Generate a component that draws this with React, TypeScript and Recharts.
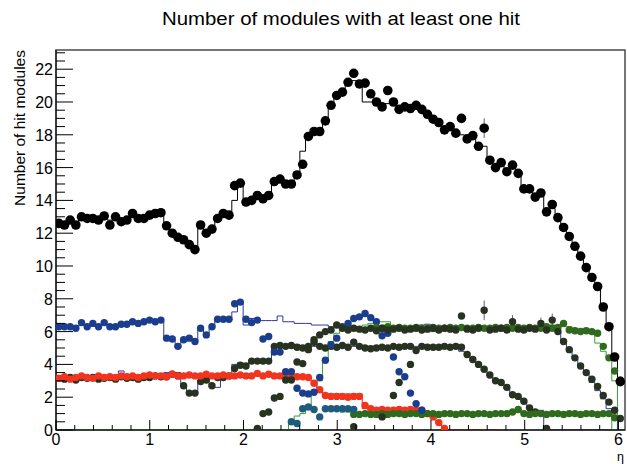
import React from 'react';
import { ComposedChart, Line, Scatter, XAxis, YAxis, ReferenceArea, ErrorBar } from 'recharts';

const _ = null;

// Binning of the η histograms
const BIN_WIDTH = 0.0605;
const X_MAX = 6.07;
const Y_MAX = 23.17;

// All detector modules: data points and simulation histogram
const TOTAL_DATA = [
  12.6, 12.5, 12.8, 12.5, 13.0, 12.9, 12.9, 12.8, 13.05, 12.5,
  13.0, 12.7, 12.8, 13.2, 12.9, 12.9, 13.1, 13.2, 13.25, 12.45,
  12.0, 11.75, 11.6, 11.3, 11.0, 12.5, 12.0, 12.25, 12.9, 13.2,
  13.1, 14.9, 15.05, 13.9, 14.0, 14.3, 14.1, 14.3, 15.15, 15.3,
  15.0, 15.0, 15.55, 16.2, 17.9, 18.2, 18.2, 18.85, 19.8, 20.4,
  20.6, 21.2, 21.75, 21.1, 21.15, 20.5, 20.0, 19.7, 20.7, 20.0,
  19.55, 19.7, 19.6, 19.8, 19.55, 19.25, 18.95, 18.75, 18.3, 18.5,
  18.1, 19.0, 17.75, 17.95, 17.3, 18.4, 16.45, 16.0, 16.3, 15.75,
  16.15, 15.65, 14.7, 14.7, 14.2, 14.45, 13.3, 13.75, 12.95, 12.35,
  11.8, 11.2, 10.6, 9.9, 9.3, 8.75, 7.5, 6.3, 4.45, 2.95,
];
const TOTAL_HIST = [
  12.8, 12.6, 12.8, 12.7, 12.9, 12.9, 12.9, 12.9, 13.0, 12.8,
  13.0, 12.9, 12.9, 13.1, 13.0, 13.0, 13.1, 13.2, 13.3, 12.5,
  12.0, 11.7, 11.5, 11.2, 11.1, 12.3, 12.2, 12.4, 12.8, 13.0,
  13.0, 14.0, 15.0, 13.7, 14.0, 14.3, 14.1, 14.4, 15.0, 15.2,
  15.0, 15.1, 15.75, 17.0, 17.9, 18.1, 18.3, 18.9, 19.7, 20.3,
  20.6, 21.1, 21.3, 21.2, 20.0, 20.0, 20.0, 19.8, 19.9, 19.9,
  19.7, 19.7, 19.7, 19.6, 19.5, 19.3, 19.0, 18.7, 18.5, 18.4,
  18.1, 18.0, 17.9, 17.8, 17.5, 17.3, 16.5, 16.2, 16.1, 15.8,
  16.0, 15.6, 14.8, 14.6, 14.3, 14.3, 13.5, 13.5, 12.9, 12.3,
  11.8, 11.2, 10.6, 10.0, 9.3, 8.7, 7.5, 6.2, 4.5, 3.0,
];

// Barrel layers (navy)
const NAVY_DATA = [
  6.3, 6.3, 6.3, 6.2, 6.55, 6.3, 6.5, 6.3, 6.55, 6.3,
  6.3, 6.45, 6.45, 6.6, 6.5, 6.6, 6.7, 6.6, 6.7, 5.6,
  5.55, 5.1, 5.5, 5.6, 5.4, 6.2, 5.8, 6.3, 6.75, 6.75,
  6.75, 7.7, 7.8, 6.75, 6.55, 6.7, 5.55, 5.7, 4.75, 4.75,
  3.55, 3.55, 2.55, 2.25, 2.2, _, _, _, _, _,
  _, _, _, _, _, _, _, _, _, _,
  _, _, _, _, _, _, _, _, _, _,
  _, _, _, _, _, _, _, _, _, _,
  _, _, _, _, _, _, _, _, _, _,
  _, _, _, _, _, _, _, _, _, _,
];
const NAVY_HIST = [
  6.35, 6.3, 6.3, 6.3, 6.4, 6.4, 6.4, 6.4, 6.4, 6.4,
  6.4, 6.45, 6.45, 6.5, 6.5, 6.6, 6.6, 6.6, 6.65, 5.6,
  5.5, 5.0, 5.5, 5.5, 5.4, 6.1, 5.9, 6.2, 6.7, 6.7,
  6.7, 7.2, 7.8, 6.4, 6.8, 6.75, 6.67, 6.67, 6.67, 6.95,
  6.6, 6.6, 6.5, 6.5, 6.5, 6.4, 6.4, 6.4, 6.3, 6.3,
  6.25, 6.2, 6.2, 6.2, 6.2, 6.15, 6.15, 6.2, 6.1, 6.1,
  6.2, 6.2, 6.15, 6.2, 6.4, 6.45, 6.2, 6.2, 6.2, 6.2,
  6.2, 6.2, 6.2, 6.2, 6.15, 6.2, 6.2, 6.2, 6.2, 6.2,
  6.2, 6.2, 6.2, 6.2, 6.2, 6.2, 6.2, 6.2, 6.0, 5.5,
  5.0, 4.35, 3.9, 3.4, 2.9, 2.4, 1.9, 1.3, 0.8, 0,
];

// Inner layers (dark olive) with their histogram
const OLIVE_A = [
  3.15, 3.1, 3.2, 3.05, 3.2, 3.15, 3.2, 3.1, 3.15, 3.2,
  3.1, 3.25, 3.15, 3.2, 3.1, 3.2, 3.2, 3.3, 3.25, 3.25,
  3.4, 3.3, 2.7, 2.25, 2.25, 2.95, 3.05, 2.7, 3.2, 3.2,
  3.3, 3.75, 3.95, 3.9, 4.2, 4.2, 4.2, 4.2, 5.1, 5.15,
  5.1, 5.15, 5.05, 5.0, 5.1, 5.35, 5.1, 5.0, 5.1, 5.05,
  5.15, 5.05, 5.35, 5.1, 5.0, 4.95, 5.0, 5.05, 5.0, 5.1,
  5.05, 5.1, 5.1, 4.85, 5.1, 5.05, 5.05, 5.05, 5.1, 5.05,
  5.1, 5.05, 4.6, 4.3, 4.0, 3.7, 3.35, 3.0, 2.9, 2.6,
  2.15, 2.05, 1.75, 1.35, 1.1, _, 0.1, _, _, _,
  _, _, _, _, _, _, _, _, _, _,
];
const OLIVE_A_HIST = [
  3.2, 3.2, 3.2, 3.2, 3.2, 3.2, 3.2, 3.2, 3.2, 3.3,
  3.3, 3.6, 3.3, 3.3, 3.3, 3.3, 3.3, 3.3, 3.3, 3.5,
  3.5, 3.5, 2.7, 2.2, 2.2, 3.0, 3.0, 2.6, 2.6, 3.2,
  3.3, 4.0, 4.1, 4.0, 4.2, 4.2, 4.2, 4.2, 5.1, 5.2,
  5.2, 5.2, 5.2, 5.1, 5.1, 5.1, 5.1, 5.1, 5.1, 5.1,
  5.1, 5.1, 5.1, 5.1, 5.1, 5.1, 5.1, 5.1, 5.1, 5.1,
  5.1, 5.1, 5.1, 5.1, 5.1, 5.1, 5.1, 5.1, 5.1, 5.1,
  5.0, 4.8, 4.5, 4.2, 3.9, 3.6, 3.3, 3.0, 2.8, 2.5,
  2.2, 2.0, 1.7, 1.4, 1.2, 1.2, 0, 0, 0, 0,
  0, 0, 0, 0, 0, 0, 0, 0, _, _,
];

// Forward disks (dark olive), rising, plateau and falling off
const OLIVE_B = [
  _, _, _, _, _, _, _, _, _, _,
  _, _, _, _, _, _, _, _, _, _,
  _, _, _, _, _, _, _, _, _, _,
  _, _, _, _, _, 0.1, 1.0, 1.1, 1.95, 2.05,
  3.05, 3.05, 4.15, 4.05, 4.9, 5.5, 5.8, 6.0, 6.1, 6.4,
  6.2, 6.1, 6.2, 6.15, 6.1, 6.2, 6.05, 6.2, 6.1, 6.15,
  6.2, 6.1, 6.15, 6.2, 6.1, 6.15, 6.2, 6.1, 6.2, 6.15,
  6.1, 6.95, 6.15, 6.1, 6.2, 7.3, 6.1, 6.15, 6.2, 6.1,
  6.6, 6.15, 6.1, 6.2, 6.15, 6.5, 6.1, 6.7, 6.0, 5.4,
  4.9, 4.4, 3.9, 3.5, 3.1, 2.65, 2.1, 1.7, 1.2, 0.7,
];
const OLIVE_C = [
  _, _, _, _, _, _, _, _, _, _,
  _, _, _, _, _, _, _, _, _, _,
  _, _, _, _, _, _, _, _, _, _,
  _, _, _, _, _, _, _, _, _, _,
  _, _, _, _, _, _, _, _, _, _,
  _, _, 0.2, _, _, _, _, 0.8, _, 2.1,
  2.9, _, 4.0, _, _, _, _, _, _, _,
  _, _, _, _, _, _, _, _, _, _,
  _, _, _, _, _, _, _, _, _, _,
  _, _, _, _, _, _, _, _, _, _,
];

// Outer forward layers (green)
const GREEN_UP = [
  _, _, _, _, _, _, _, _, _, _,
  _, _, _, _, _, _, _, _, _, _,
  _, _, _, _, _, _, _, _, _, _,
  _, _, _, _, _, _, _, _, _, _,
  _, _, _, _, _, _, _, _, _, _,
  _, _, _, _, _, _, 6.25, 6.2, 6.3, 6.2,
  6.25, 6.2, 6.2, 6.25, 6.2, 6.2, 6.25, 6.2, 6.2, 6.25,
  6.2, 6.25, 6.2, 6.2, 6.25, 6.2, 6.2, 6.25, 6.2, 6.25,
  6.2, 6.25, 6.2, 6.25, 6.2, 6.2, 6.3, 6.2, 6.25, 6.5,
  6.1, 6.05, 6.0, 6.05, 6.0, 5.9, 5.1, 4.4, 3.6, 3.05,
];
const GREEN_UP_HIST = [
  0, 0, 0, 0, 0, 0, 0, 0, 0, 0,
  0, 0, 0, 0, 0, 0, 0, 0, 0, 0,
  0, 0, 0, 0, 0, 0, 0, 0, 0, 0,
  0, 0, 0, 0, 0, 0, 0, 0, 0, 0,
  0, 0.5, 0.85, 1.0, 1.4, 2.4, 3.0, 4.3, 5.4, 5.9,
  6.3, 6.3, 6.3, 6.3, 6.4, 6.5, 6.5, 6.6, 6.6, 6.1,
  6.1, 6.0, 6.0, 6.2, 6.2, 6.0, 6.0, 6.2, 6.2, 6.2,
  6.2, 6.2, 6.2, 6.2, 6.2, 6.2, 6.2, 6.2, 6.2, 6.2,
  6.2, 6.2, 6.2, 6.2, 6.2, 6.3, 6.3, 6.4, 6.3, 6.3,
  6.3, 6.2, 6.2, 6.1, 6.0, 5.3, 4.8, 4.4, 3.0, 0,
];
const GREEN_LOW = [
  _, _, _, _, _, _, _, _, _, _,
  _, _, _, _, _, _, _, _, _, _,
  _, _, _, _, _, _, _, _, _, _,
  _, _, _, _, _, _, _, _, _, _,
  _, _, _, _, _, _, _, _, _, _,
  _, _, 0.95, 0.95, 1.0, 0.95, 0.95, 1.0, 0.95, 1.0,
  1.0, 0.95, 1.0, 1.0, 0.95, 1.0, 1.0, 0.95, 1.0, 1.0,
  0.95, 1.0, 1.0, 0.95, 1.0, 1.0, 0.95, 1.0, 1.0, 1.0,
  1.1, 1.25, 1.0, 0.95, 1.0, 1.0, 0.95, 1.0, 1.0, 0.95,
  1.0, 1.0, 0.95, 1.0, 1.0, 0.95, 1.0, 1.0, 0.75, _,
];
const GREEN_LOW_HIST = [
  _, _, _, _, _, _, _, _, _, _,
  _, _, _, _, _, _, _, _, _, _,
  _, _, _, _, _, _, _, _, _, _,
  _, _, _, _, _, _, _, _, _, _,
  _, _, _, _, _, _, _, _, _, _,
  1.1, 1.1, 1.0, 1.0, 1.0, 1.0, 1.0, 1.0, 1.0, 1.0,
  1.0, 1.0, 1.0, 1.0, 1.0, 1.0, 1.0, 1.0, 1.0, 1.0,
  1.0, 1.0, 1.0, 1.0, 1.0, 1.0, 1.0, 1.0, 1.0, 1.0,
  1.1, 1.2, 1.0, 1.0, 1.0, 1.0, 1.0, 1.0, 1.0, 1.0,
  1.0, 1.0, 1.0, 1.0, 1.0, 1.0, 1.0, 1.0, 0, _,
];

// Transition-region disks (teal)
const TEAL_LOW = [
  _, _, _, _, _, _, _, _, _, _,
  _, _, _, _, _, _, _, _, _, _,
  _, _, _, _, _, _, _, _, _, _,
  _, _, _, _, _, _, _, _, _, _,
  _, 0.5, 0.4, 1.3, 1.4, 1.25, 0.8, 1.3, 1.3, 1.3,
  1.3, 1.3, 1.25, _, _, _, _, _, _, _,
  _, _, _, _, _, _, _, _, _, _,
  _, _, _, _, _, _, _, _, _, _,
  _, _, _, _, _, _, _, _, _, _,
  _, _, _, _, _, _, _, _, _, _,
];
const TEAL_PEAK = [
  _, _, _, _, _, _, _, _, _, _,
  _, _, _, _, _, _, _, _, _, _,
  _, _, _, _, _, _, _, _, _, _,
  _, _, _, _, _, _, _, _, _, _,
  _, _, _, _, _, 2.3, 3.2, 4.25, 5.2, 5.6,
  6.3, 6.5, 6.8, 6.9, 7.1, 6.85, 6.6, 5.75, 5.9, 4.45,
  3.55, 3.25, 2.25, 1.6, 1.2, _, _, _, _, _,
  _, _, _, _, _, _, _, _, _, _,
  _, _, _, _, _, _, _, _, _, _,
  _, _, _, _, _, _, _, _, _, _,
];

// Central layers (red)
const RED_DATA = [
  3.15, 3.25, 3.1, 3.2, 3.3, 3.2, 3.15, 3.3, 3.2, 3.25,
  3.2, 3.3, 3.25, 3.3, 3.2, 3.3, 3.35, 3.3, 3.3, 3.25,
  3.4, 3.3, 3.3, 3.35, 3.3, 3.3, 3.4, 3.3, 3.3, 3.35,
  3.3, 3.3, 3.35, 3.3, 3.3, 3.45, 3.3, 3.4, 3.3, 3.3,
  3.35, 3.3, 3.25, 3.25, 3.2, 2.85, 2.45, 2.1, 2.05, 2.05,
  2.05, 2.0, 2.05, 2.05, 1.5, 1.3, 1.2, 1.25, 1.2, 1.2,
  1.25, 1.2, 1.25, 1.2, 1.2, 1.0, 0.8, 0.45, 0.1, _,
  _, _, _, _, _, _, _, _, _, _,
  _, _, _, _, _, _, _, _, _, _,
  _, _, _, _, _, _, _, _, _, _,
];
const RED_HIST = [
  3.2, 3.2, 3.2, 3.2, 3.25, 3.25, 3.25, 3.25, 3.25, 3.25,
  3.25, 3.3, 3.3, 3.3, 3.3, 3.3, 3.3, 3.3, 3.3, 3.3,
  3.3, 3.3, 3.3, 3.3, 3.3, 3.3, 3.3, 3.3, 3.3, 3.3,
  3.3, 3.3, 3.3, 3.3, 3.3, 3.3, 3.3, 3.3, 3.3, 3.3,
  3.3, 3.3, 3.25, 3.25, 3.2, 2.9, 2.5, 2.2, 2.2, 2.2,
  2.2, 2.2, 2.2, 2.2, 1.3, 1.3, 1.25, 1.25, 1.25, 1.25,
  1.25, 1.25, 1.25, 1.25, 1.2, 1.0, 0.75, 0.4, 0, 0,
  0, 0, 0, 0, 0, 0, 0, 0, _, _,
  _, _, _, _, _, _, _, _, _, _,
  _, _, _, _, _, _, _, _, _, _,
];

// Points drawn with visible vertical error bars
const ERR_BINS = [75, 75, 80, 85, 87];
const ERR_VALUES = [18.4, 7.3, 6.6, 6.5, 6.7];
const ERR_SIZES = [0.6, 0.6, 0.4, 0.35, 0.4];

const FONT = '"Liberation Sans", Arial, Helvetica, sans-serif';

const C = {
  black: '#000000',
  navyDot: '#1b3d8e',
  navyLine: '#34349c',
  olive: '#283220',
  greenDot: '#2f6a1e',
  greenLine: '#3b9b37',
  redDot: '#f2341f',
  redLine: '#e3231a',
  teal: '#1e5b7e',
  frame: '#4a4a4a',
};

const R_TOTAL = 4.8;
const R_LAYER = 3.7;

type Pt = { x: number; y: number | null };

const binPoints = (vals: (number | null)[]): Pt[] =>
  vals
    .map((v, i) => (v == null ? null : { x: (i + 0.5) * BIN_WIDTH, y: v }))
    .filter((p): p is { x: number; y: number } => p !== null);

const histPoints = (vals: (number | null)[]): Pt[] => {
  const out: Pt[] = [];
  vals.forEach((v, i) => {
    if (v == null) {
      out.push({ x: i * BIN_WIDTH, y: null });
    } else {
      out.push({ x: i * BIN_WIDTH, y: v });
      out.push({ x: (i + 1) * BIN_WIDTH, y: v });
    }
  });
  return out;
};

const errPoints = ERR_BINS.map((b, k) => ({
  x: (b + 0.5) * BIN_WIDTH,
  y: ERR_VALUES[k],
  e: ERR_SIZES[k],
}));

const X_TICKS: number[] = [];
for (let k = 0; k <= 30; k++) X_TICKS.push(Math.round(k * 2) / 10);
const Y_TICKS: number[] = [];
for (let k = 0; k <= 46; k++) Y_TICKS.push(k / 2);

const XTick = (props: any) => {
  const { x, y, payload } = props;
  const v = payload.value as number;
  const major = Math.abs(v - Math.round(v)) < 1e-6;
  return (
    <g>
      <line x1={x} x2={x} y1={y} y2={y - (major ? 10 : 5)} stroke="#000" strokeWidth={1} />
      {major && (
        <text x={x} y={y + 15} textAnchor="middle" fontSize={16} fontFamily={FONT} fill="#000">
          {Math.round(v)}
        </text>
      )}
    </g>
  );
};

const YTick = (props: any) => {
  const { x, y, payload } = props;
  const v = payload.value as number;
  const major = Math.abs(v / 2 - Math.round(v / 2)) < 1e-6;
  return (
    <g>
      <line x1={x} x2={x + (major ? 17 : 9)} y1={y} y2={y} stroke="#000" strokeWidth={1} />
      {major && (
        <text x={x - 3} y={y + 6} textAnchor="end" fontSize={16} fontFamily={FONT} fill="#000">
          {v}
        </text>
      )}
    </g>
  );
};

const dot = (color: string, r: number) => (p: any) =>
  p.cx == null || p.cy == null ? <g /> : <circle cx={p.cx} cy={p.cy} r={r} fill={color} />;

const hist = (vals: (number | null)[], color: string, name: string) => (
  <Line
    key={name}
    name={name}
    data={histPoints(vals)}
    dataKey="y"
    type="linear"
    stroke={color}
    strokeWidth={1}
    dot={false}
    activeDot={false}
    connectNulls={false}
    isAnimationActive={false}
  />
);

const points = (vals: (number | null)[], color: string, r: number, name: string) => (
  <Scatter
    key={name}
    name={name}
    data={binPoints(vals)}
    dataKey="y"
    fill={color}
    shape={dot(color, r)}
    isAnimationActive={false}
  />
);

export default function App() {
  return (
    <div style={{ position: 'absolute', left: 0, top: 0, width: 627, height: 464, background: '#fff' }}>
      <ComposedChart width={627} height={464} margin={{ top: 50, right: 2, bottom: 0, left: 0 }}>
        <XAxis
          type="number"
          dataKey="x"
          domain={[0, X_MAX]}
          allowDataOverflow
          ticks={X_TICKS}
          interval={0}
          height={34}
          tickSize={0}
          tickMargin={0}
          tickLine={false}
          axisLine={{ stroke: '#000', strokeWidth: 1 }}
          tick={XTick}
        />
        <YAxis
          type="number"
          domain={[0, Y_MAX]}
          allowDataOverflow
          ticks={Y_TICKS}
          interval={0}
          width={56}
          tickSize={0}
          tickMargin={0}
          tickLine={false}
          axisLine={{ stroke: '#000', strokeWidth: 1 }}
          tick={YTick}
        />
        <ReferenceArea
          x1={0}
          x2={X_MAX}
          y1={0}
          y2={Y_MAX}
          fill="none"
          fillOpacity={0}
          stroke={C.frame}
          strokeWidth={1.5}
          ifOverflow="visible"
        />
        {hist(GREEN_UP_HIST, C.greenLine, 'greenUpHist')}
        {hist(GREEN_LOW_HIST, C.greenLine, 'greenLowHist')}
        {hist(RED_HIST, C.redLine, 'redHist')}
        {hist(OLIVE_A_HIST, C.navyLine, 'oliveAHist')}
        {hist(NAVY_HIST, C.navyLine, 'navyHist')}
        {hist(TOTAL_HIST, C.black, 'totalHist')}
        <Scatter
          name="errors"
          data={errPoints}
          dataKey="y"
          fill="none"
          shape={() => <g />}
          isAnimationActive={false}
        >
          <ErrorBar dataKey="e" direction="y" width={0} stroke="#5b5b8f" strokeWidth={1} />
        </Scatter>
        {points(OLIVE_A, C.olive, R_LAYER, 'oliveA')}
        {points(RED_DATA, C.redDot, R_LAYER, 'red')}
        {points(GREEN_LOW, C.greenDot, R_LAYER, 'greenLow')}
        {points(TEAL_LOW, C.teal, R_LAYER, 'tealLow')}
        {points(TEAL_PEAK, C.navyDot, R_LAYER, 'tealPeak')}
        {points(NAVY_DATA, C.navyDot, R_LAYER, 'navy')}
        {points(GREEN_UP, C.greenDot, R_LAYER, 'greenUp')}
        {points(OLIVE_B, C.olive, R_LAYER, 'oliveB')}
        {points(OLIVE_C, C.olive, R_LAYER, 'oliveC')}
        {points(TOTAL_DATA, C.black, R_TOTAL, 'total')}
      </ComposedChart>
      <svg
        width={627}
        height={464}
        style={{ position: 'absolute', left: 0, top: 0, pointerEvents: 'none' }}
      >
        <text
          x={341}
          y={25}
          textAnchor="middle"
          fontSize={18.5}
          fontFamily={FONT}
          fill="#000"
          textLength={358}
          lengthAdjust="spacingAndGlyphs"
        >
          Number of modules with at least one hit
        </text>
        <text
          transform="translate(25,50) rotate(-90)"
          x={0}
          y={0}
          textAnchor="end"
          fontSize={15.5}
          fontFamily={FONT}
          fill="#000"
        >
          Number of hit modules
        </text>
        <text x={624} y={460.5} textAnchor="end" fontSize={12.5} fontFamily={FONT} fill="#000">
          η
        </text>
      </svg>
    </div>
  );
}
